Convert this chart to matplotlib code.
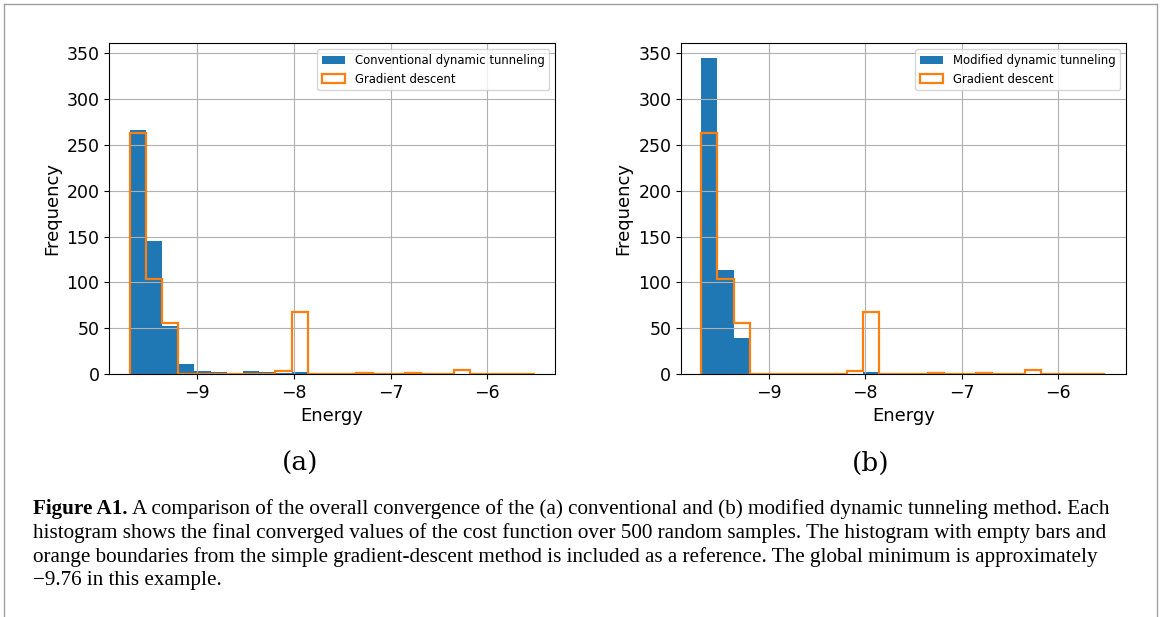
import numpy as np
import matplotlib
matplotlib.use("Agg")
import matplotlib.pyplot as plt
from matplotlib.lines import Line2D

# bins shared by all histograms (25 bins)
edge_lo, edge_hi, n_bins = -9.70, -5.51, 25
edges = np.linspace(edge_lo, edge_hi, n_bins + 1)
centers = 0.5 * (edges[:-1] + edges[1:])

# counts per bin
conv_counts = [266, 145, 52, 11, 3, 2, 1, 3, 2, 1, 2, 0, 0,
               0, 0, 0, 0, 0, 0, 0, 0, 0, 0, 0, 0]
mod_counts = [345, 113, 39, 0, 0, 0, 0, 0, 0, 0, 2, 0, 0,
              0, 0, 0, 0, 0, 0, 0, 0, 0, 0, 0, 0]
gd_counts = [263, 104, 56, 0, 0, 0, 0, 0, 0, 3, 68, 0, 0,
             0, 1, 0, 0, 1, 0, 0, 4, 0, 0, 0, 0]

panels = [("Conventional dynamic tunneling", conv_counts, "(a)"),
          ("Modified dynamic tunneling", mod_counts, "(b)")]

W, H = 1165, 617
fig = plt.figure(figsize=(W / 100, H / 100), dpi=100)

# axes boxes in pixels: left, right, top, bottom
boxes = [(109.3, 555.0, 43.3, 374.0), (681.0, 1125.7, 43.3, 374.0)]
label_x = [300, 871]

for (name, counts, tag), (l, r, t, b), lx in zip(panels, boxes, label_x):
    ax = fig.add_axes([l / W, 1 - b / H, (r - l) / W, (b - t) / H])
    ax.hist(centers, bins=edges, weights=counts, color="C0", label=name)
    ax.hist(centers, bins=edges, weights=gd_counts, histtype="step",
            color="C1", linewidth=1.6, label="Gradient descent")
    ax.set_ylim(0, 361)
    ax.set_yticks(np.arange(0, 351, 50))
    ax.set_xticks([-9, -8, -7, -6])
    ax.grid(True)
    ax.tick_params(labelsize=12.5)
    ax.set_xlabel("Energy", fontsize=13)
    ax.set_ylabel("Frequency", fontsize=13)
    ax.legend(loc="upper right", fontsize=8.4)
    fig.text(lx / W, 1 - 463 / H, tag, ha="center", va="center",
             fontsize=19, family=["DejaVu Serif"])

# caption
cap_font = ["Liberation Serif", "DejaVu Serif"]
cap_size = 15.2
lines = [
    " A comparison of the overall convergence of the (a) conventional and (b) modified dynamic tunneling method. Each",
    "histogram shows the final converged values of the cost function over 500 random samples. The histogram with empty bars and",
    "orange boundaries from the simple gradient-descent method is included as a reference. The global minimum is approximately",
    "\u22129.76 in this example.",
]
line_y = [509, 533, 557, 581]
x0 = 33 / W
bold = fig.text(x0, 1 - line_y[0] / H, "Figure A1.", fontsize=cap_size,
                family=cap_font, weight="bold", va="center")
fig.canvas.draw()
bb = bold.get_window_extent(renderer=fig.canvas.get_renderer())
fig.text(bb.x1 / W, 1 - line_y[0] / H, lines[0], fontsize=cap_size,
         family=cap_font, va="center")
for txt, y in zip(lines[1:], line_y[1:]):
    fig.text(x0, 1 - y / H, txt, fontsize=cap_size, family=cap_font, va="center")

# page frame
frame = dict(color="#a0a0a0", linewidth=1, transform=None)
fig.add_artist(Line2D([4, 4], [0, H - 4], **frame))
fig.add_artist(Line2D([4, 1157], [H - 4, H - 4], **frame))
fig.add_artist(Line2D([1157, 1157], [0, H - 4], **frame))

fig.savefig("out.png", dpi=100)
